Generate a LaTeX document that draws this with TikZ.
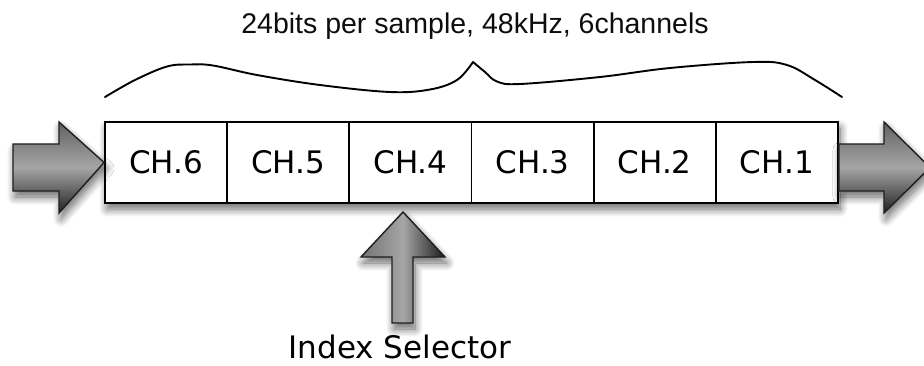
\documentclass[tikz,border=0pt]{standalone}
\usepackage{fontspec}
\setmainfont{DejaVu Sans}
\newfontfamily\titlefont{Liberation Sans}
\usetikzlibrary{shadows.blur}
\begin{document}
\begin{tikzpicture}[x=1pt,y=-1pt,
  softshadow/.style={blur shadow={shadow xshift=2pt, shadow yshift=-6pt,
      shadow blur radius=8pt, shadow blur steps=14, shadow opacity=60}},
  cell/.style={draw=black, line width=1.9pt, minimum width=122.17pt,
      minimum height=80.5pt, inner sep=0pt,
      font=\fontsize{31}{34}\selectfont},
  flowarrow/.style={draw=black!88, line width=1.4pt, line join=miter, softshadow},
  hshade/.style={top color=black!62, bottom color=black!87, middle color=black!35},
  vshade/.style={left color=black!55, right color=black!90, middle color=black!35},
  brace/.style={line width=1.9pt, line cap=round, line join=round}]
\useasboundingbox (0,0) rectangle (924,365);

% frame of the sample word with its shadow
\path[fill=white, softshadow] (105,122) rectangle (838,203);

% channel cells
\node[cell] (c6) at (166.1,162.5) {CH.6};
\node[cell] (c5) at (288.3,162.5) {CH.5};
\node[cell] (c4) at (410.4,162.5) {CH.4};
\node[cell] (c3) at (532.6,162.5) {CH.3};
\node[cell] (c2) at (654.7,162.5) {CH.2};
\node[cell] (c1) at (776.9,162.5) {CH.1};

% input and output flow arrows
\path[flowarrow, hshade] (13,144) -- (59,144) -- (59,122) -- (c6.west)
  -- (59,213) -- (59,191) -- (13,191) -- cycle;
\path[flowarrow, hshade] (c1.east |- 0,144) -- (884,144) -- (884,122) -- (930,167.5)
  -- (884,213) -- (884,191) -- (c1.east |- 0,191) -- cycle;

% index selector arrow
\coordinate (tip) at (403,212);
\path[flowarrow, vshade] (tip) -- (445,257) -- (413,257) -- (413,323)
  -- (392,323) -- (392,257) -- (361,257) -- cycle;
\node[font=\fontsize{31}{34}\selectfont, anchor=base] (sel) at (400,358) {Index Selector};

% curly brace over the word
\draw[brace] plot[smooth, tension=0.6] coordinates {(105,97) (135,80) (167,66.5)
  (190,64.5) (213,65.5) (257,75) (320,85) (390,92) (430,89.5) (457,80) (473,62)};
\draw[brace] plot[smooth, tension=0.6] coordinates {(473,62) (485,72) (497,81.5)
  (520,84) (600,77) (670,68) (753,62) (787,65) (815,80) (842,97)};

\node[font=\titlefont\fontsize{28.5}{31}\selectfont, anchor=base, text=black!95] (title)
  at (475,33) {24bits per sample, 48kHz, 6channels};
\end{tikzpicture}
\end{document}
